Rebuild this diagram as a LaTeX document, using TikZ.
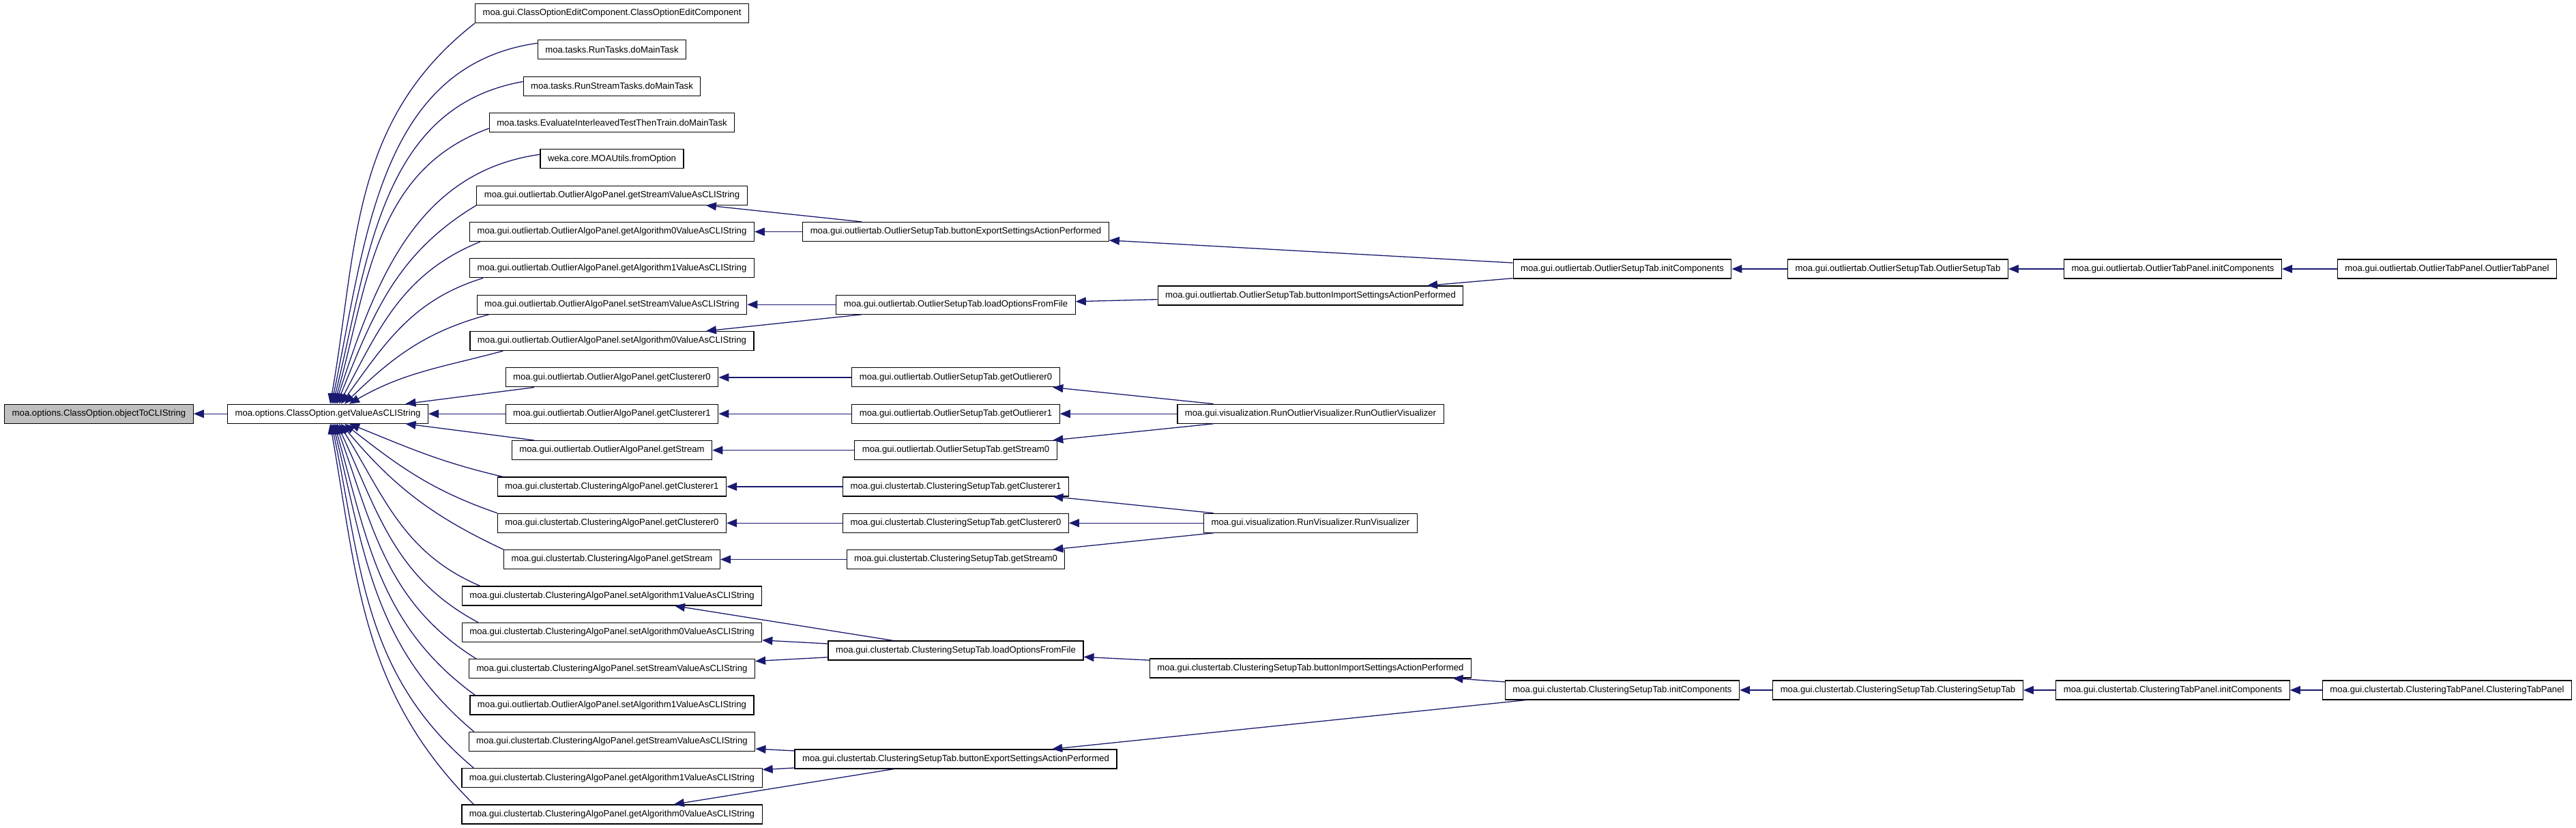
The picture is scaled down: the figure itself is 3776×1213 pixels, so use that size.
\documentclass[tikz,border=0pt]{standalone}
\usepackage{fontspec}
\setmainfont{Liberation Sans}
\usetikzlibrary{arrows.meta}
\definecolor{edgeblue}{RGB}{25,25,112}
\definecolor{selgray}{RGB}{191,191,191}
\tikzset{
  fn/.style={draw=black, line width=0.6pt, fill=white, inner xsep=5.5pt, inner ysep=0pt,
    minimum height=14pt, font=\fontsize{6.58pt}{7.9pt}\selectfont},
  fnsel/.style={fn, fill=selgray},
  call/.style={draw=edgeblue, line width=0.65pt, -{Triangle[length=7.5pt,width=6pt]}},
}
\begin{document}
\begin{tikzpicture}[x=0.5pt, y=0.5pt]
\fill[white] (0,0) rectangle (3776,1213);
\useasboundingbox (0,0) rectangle (3776,1213);
% columns
\def\cA{145}\def\cB{480.5}\def\cC{897}\def\cD{1401}\def\cE{1921}
\def\cF{2378}\def\cG{2782}\def\cH{3185}\def\cI{3587}
% column 0/1
\node[fnsel] (n0) at (\cA,{1193.5-53.34*11}) {moa.options.ClassOption.objectToCLIString};
\node[fn] (n1) at (\cB,{1193.5-53.34*11}) {moa.options.ClassOption.getValueAsCLIString};
% column 2
\node[fn] (r0) at (\cC,{1193.5-53.34*0}) {moa.gui.ClassOptionEditComponent.ClassOptionEditComponent};
\node[fn] (r1) at (\cC,{1193.5-53.34*1}) {moa.tasks.RunTasks.doMainTask};
\node[fn] (r2) at (\cC,{1193.5-53.34*2}) {moa.tasks.RunStreamTasks.doMainTask};
\node[fn] (r3) at (\cC,{1193.5-53.34*3}) {moa.tasks.EvaluateInterleavedTestThenTrain.doMainTask};
\node[fn] (r4) at (\cC,{1193.5-53.34*4}) {weka.core.MOAUtils.fromOption};
\node[fn] (r5) at (\cC,{1193.5-53.34*5}) {moa.gui.outliertab.OutlierAlgoPanel.getStreamValueAsCLIString};
\node[fn] (r6) at (\cC,{1193.5-53.34*6}) {moa.gui.outliertab.OutlierAlgoPanel.getAlgorithm0ValueAsCLIString};
\node[fn] (r7) at (\cC,{1193.5-53.34*7}) {moa.gui.outliertab.OutlierAlgoPanel.getAlgorithm1ValueAsCLIString};
\node[fn] (r8) at (\cC,{1193.5-53.34*8}) {moa.gui.outliertab.OutlierAlgoPanel.setStreamValueAsCLIString};
\node[fn] (r9) at (\cC,{1193.5-53.34*9}) {moa.gui.outliertab.OutlierAlgoPanel.setAlgorithm0ValueAsCLIString};
\node[fn] (r10) at (\cC,{1193.5-53.34*10}) {moa.gui.outliertab.OutlierAlgoPanel.getClusterer0};
\node[fn] (r11) at (\cC,{1193.5-53.34*11}) {moa.gui.outliertab.OutlierAlgoPanel.getClusterer1};
\node[fn] (r12) at (\cC,{1193.5-53.34*12}) {moa.gui.outliertab.OutlierAlgoPanel.getStream};
\node[fn] (r13) at (\cC,{1193.5-53.34*13}) {moa.gui.clustertab.ClusteringAlgoPanel.getClusterer1};
\node[fn] (r14) at (\cC,{1193.5-53.34*14}) {moa.gui.clustertab.ClusteringAlgoPanel.getClusterer0};
\node[fn] (r15) at (\cC,{1193.5-53.34*15}) {moa.gui.clustertab.ClusteringAlgoPanel.getStream};
\node[fn] (r16) at (\cC,{1193.5-53.34*16}) {moa.gui.clustertab.ClusteringAlgoPanel.setAlgorithm1ValueAsCLIString};
\node[fn] (r17) at (\cC,{1193.5-53.34*17}) {moa.gui.clustertab.ClusteringAlgoPanel.setAlgorithm0ValueAsCLIString};
\node[fn] (r18) at (\cC,{1193.5-53.34*18}) {moa.gui.clustertab.ClusteringAlgoPanel.setStreamValueAsCLIString};
\node[fn] (r19) at (\cC,{1193.5-53.34*19}) {moa.gui.outliertab.OutlierAlgoPanel.setAlgorithm1ValueAsCLIString};
\node[fn] (r20) at (\cC,{1193.5-53.34*20}) {moa.gui.clustertab.ClusteringAlgoPanel.getStreamValueAsCLIString};
\node[fn] (r21) at (\cC,{1193.5-53.34*21}) {moa.gui.clustertab.ClusteringAlgoPanel.getAlgorithm1ValueAsCLIString};
\node[fn] (r22) at (\cC,{1193.5-53.34*22}) {moa.gui.clustertab.ClusteringAlgoPanel.getAlgorithm0ValueAsCLIString};
% column 3
\node[fn] (oExport) at (\cD,{1193.5-53.34*6}) {moa.gui.outliertab.OutlierSetupTab.buttonExportSettingsActionPerformed};
\node[fn] (oLoad) at (\cD,{1193.5-53.34*8}) {moa.gui.outliertab.OutlierSetupTab.loadOptionsFromFile};
\node[fn] (oOut0) at (\cD,{1193.5-53.34*10}) {moa.gui.outliertab.OutlierSetupTab.getOutlierer0};
\node[fn] (oOut1) at (\cD,{1193.5-53.34*11}) {moa.gui.outliertab.OutlierSetupTab.getOutlierer1};
\node[fn] (oStr0) at (\cD,{1193.5-53.34*12}) {moa.gui.outliertab.OutlierSetupTab.getStream0};
\node[fn] (cClu1) at (\cD,{1193.5-53.34*13}) {moa.gui.clustertab.ClusteringSetupTab.getClusterer1};
\node[fn] (cClu0) at (\cD,{1193.5-53.34*14}) {moa.gui.clustertab.ClusteringSetupTab.getClusterer0};
\node[fn] (cStr0) at (\cD,{1193.5-53.34*15}) {moa.gui.clustertab.ClusteringSetupTab.getStream0};
\node[fn] (cLoad) at (\cD,260) {moa.gui.clustertab.ClusteringSetupTab.loadOptionsFromFile};
\node[fn] (cExport) at (\cD,101) {moa.gui.clustertab.ClusteringSetupTab.buttonExportSettingsActionPerformed};
% column 4
\node[fn] (oImport) at (\cE,780) {moa.gui.outliertab.OutlierSetupTab.buttonImportSettingsActionPerformed};
\node[fn] (rov) at (\cE,{1193.5-53.34*11}) {moa.gui.visualization.RunOutlierVisualizer.RunOutlierVisualizer};
\node[fn] (rv) at (\cE,{1193.5-53.34*14}) {moa.gui.visualization.RunVisualizer.RunVisualizer};
\node[fn] (cImport) at (\cE,234) {moa.gui.clustertab.ClusteringSetupTab.buttonImportSettingsActionPerformed};
% columns 5-8
\node[fn] (oInit) at (\cF,819) {moa.gui.outliertab.OutlierSetupTab.initComponents};
\node[fn] (oST) at (\cG,819) {moa.gui.outliertab.OutlierSetupTab.OutlierSetupTab};
\node[fn] (oTPI) at (\cH,819) {moa.gui.outliertab.OutlierTabPanel.initComponents};
\node[fn] (oTP) at (\cI,819) {moa.gui.outliertab.OutlierTabPanel.OutlierTabPanel};
\node[fn] (cInit) at (\cF,202) {moa.gui.clustertab.ClusteringSetupTab.initComponents};
\node[fn] (cST) at (\cG,202) {moa.gui.clustertab.ClusteringSetupTab.ClusteringSetupTab};
\node[fn] (cTPI) at (\cH,202) {moa.gui.clustertab.ClusteringTabPanel.initComponents};
\node[fn] (cTP) at (\cI,202) {moa.gui.clustertab.ClusteringTabPanel.ClusteringTabPanel};

% main edge
\draw[call] (n1) -- (n0);
% fan into getValueAsCLIString
\draw[call] (r0.south west) to[out=218,in=80] ([xshift=1.75pt]n1.north);
\draw[call] ([yshift=-2.5pt]r1.north west) to[out=188,in=78] ([xshift=2.75pt]n1.north);
\draw[call] ([yshift=-4pt]r2.north west) to[out=190,in=76] ([xshift=3.75pt]n1.north);
\draw[call] ([yshift=3pt]r3.south west) to[out=200,in=74] ([xshift=4.75pt]n1.north);
\draw[call] ([yshift=-4pt]r4.north west) to[out=188,in=72] ([xshift=5.75pt]n1.north);
\draw[call] (r5.south west) to[out=211,in=68] ([xshift=6.75pt]n1.north);
\draw[call] ([xshift=8pt]r6.south west) to[out=202,in=62] ([xshift=8.25pt]n1.north);
\draw[call] ([xshift=10pt]r7.south west) to[out=197,in=54] ([xshift=9.75pt]n1.north);
\draw[call] ([xshift=9pt]r8.south west) to[out=195,in=44] ([xshift=12.25pt]n1.north);
\draw[call] ([xshift=24.5pt]r9.south west) to[out=195,in=30] ([xshift=15.75pt]n1.north);
\draw[call] (r10) -- (n1);
\draw[call] (r11) -- (n1);
\draw[call] (r12) -- (n1);
\draw[call] ([xshift=4pt]r13.north west) to[out=167,in=-22] ([xshift=15.75pt]n1.south);
\draw[call] (r14.north west) to[out=161,in=-38] ([xshift=12.25pt]n1.south);
\draw[call] (r15.north west) to[out=155,in=-50] ([xshift=9.75pt]n1.south);
\draw[call] ([xshift=13.5pt]r16.north west) to[out=157,in=-58] ([xshift=8.25pt]n1.south);
\draw[call] ([xshift=12pt]r17.north west) to[out=152,in=-65] ([xshift=6.75pt]n1.south);
\draw[call] ([xshift=5.5pt]r18.north west) to[out=148,in=-70] ([xshift=5.75pt]n1.south);
\draw[call] ([xshift=4pt]r19.north west) to[out=144,in=-74] ([xshift=4.75pt]n1.south);
\draw[call] ([xshift=4pt]r20.north west) to[out=140,in=-76] ([xshift=3.75pt]n1.south);
\draw[call] ([xshift=9pt]r21.north west) to[out=140,in=-78] ([xshift=2.75pt]n1.south);
\draw[call] ([xshift=9pt]r22.north west) to[out=135,in=-80] ([xshift=1.75pt]n1.south);
% column 3 -> column 2
\draw[call] (oExport) -- (r5);
\draw[call] (oExport) -- (r6);
\draw[call] (oLoad) -- (r8);
\draw[call] (oLoad) -- (r9);
\draw[call] (oOut0) -- (r10);
\draw[call] (oOut1) -- (r11);
\draw[call] (oStr0) -- (r12);
\draw[call] (cClu1) -- (r13);
\draw[call] (cClu0) -- (r14);
\draw[call] (cStr0) -- (r15);
\draw[call] (cLoad) -- (r16);
\draw[call] (cLoad) -- (r17);
\draw[call] (cLoad) -- (r18);
\draw[call] (cExport) -- (r20);
\draw[call] (cExport) -- (r21);
\draw[call] (cExport) -- (r22);
% column 4 -> column 3
\draw[call] (oImport) -- (oLoad);
\draw[call] (rov) -- (oOut0);
\draw[call] (rov) -- (oOut1);
\draw[call] (rov) -- (oStr0);
\draw[call] (rv) -- (cClu1);
\draw[call] (rv) -- (cClu0);
\draw[call] (rv) -- (cStr0);
\draw[call] (cImport) -- (cLoad);
% column 5
\draw[call] (oInit) -- (oExport);
\draw[call] (oInit) -- (oImport);
\draw[call] (cInit) -- (cImport);
\draw[call] (cInit) -- (cExport);
% chains
\draw[call] (oST) -- (oInit);
\draw[call] (oTPI) -- (oST);
\draw[call] (oTP) -- (oTPI);
\draw[call] (cST) -- (cInit);
\draw[call] (cTPI) -- (cST);
\draw[call] (cTP) -- (cTPI);
\end{tikzpicture}
\end{document}
